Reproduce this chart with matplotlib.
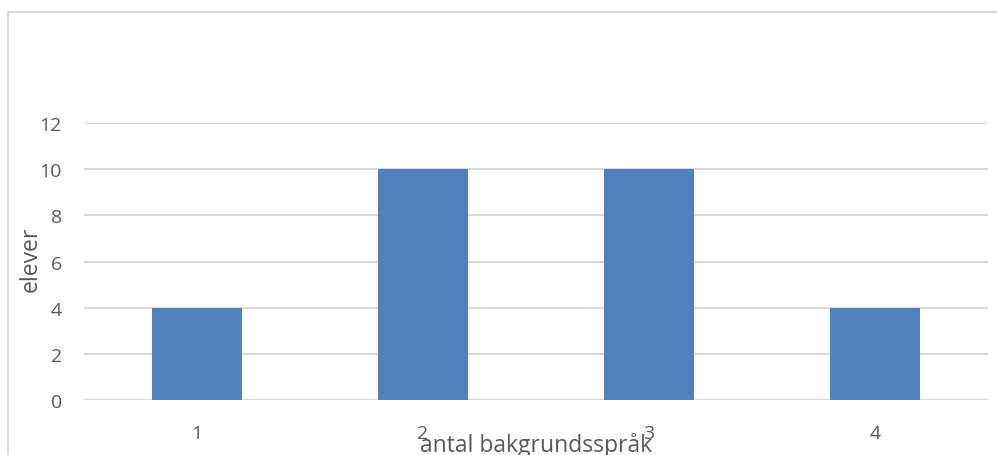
import matplotlib
matplotlib.use("Agg")
import matplotlib.pyplot as plt
from matplotlib.patches import Rectangle

categories = ["1", "2", "3", "4"]
elever = [4, 10, 10, 4]
yticks = [0, 2, 4, 6, 8, 10, 12]

W, H = 997, 456
text_col = "#595959"
grid_col = "#D9D9D9"
bar_col = "#4F81BD"

plt.rcParams["font.family"] = ["Open Sans", "DejaVu Sans"]

fig = plt.figure(figsize=(W / 100, H / 100), dpi=100)
# outer chart border (right and bottom run past the image edge)
fig.patches.append(Rectangle((8 / W, -0.1), 1.2, 1 - 13 / H + 0.1, transform=fig.transFigure,
                             fill=False, edgecolor=grid_col, linewidth=1.5))

ax = fig.add_axes([84 / W, 1 - 401 / H, (988 - 84) / W, (401 - 124) / H])
x = range(len(categories))
ax.bar(x, elever, width=0.4, color=bar_col, zorder=3)
ax.set_xlim(-0.5, len(categories) - 0.5)
ax.set_ylim(0, 12)
ax.set_yticks(yticks)
ax.set_xticks(list(x))
ax.set_xticklabels(categories)
ax.grid(axis="y", color=grid_col, linewidth=1.5, zorder=0)
ax.tick_params(length=0, labelsize=14, colors=text_col)
ax.tick_params(axis="y", pad=16)
ax.tick_params(axis="x", pad=17)
for s in ax.spines.values():
    s.set_visible(False)

fig.text(536 / W, 1 - 452 / H, "antal bakgrundsspråk", ha="center", va="baseline",
         fontsize=16.5, color=text_col)
fig.text(31 / W, 1 - 259 / H, "elever", ha="center", va="center", rotation=90,
         fontsize=16.5, color=text_col)

fig.savefig("out.png", dpi=100)
